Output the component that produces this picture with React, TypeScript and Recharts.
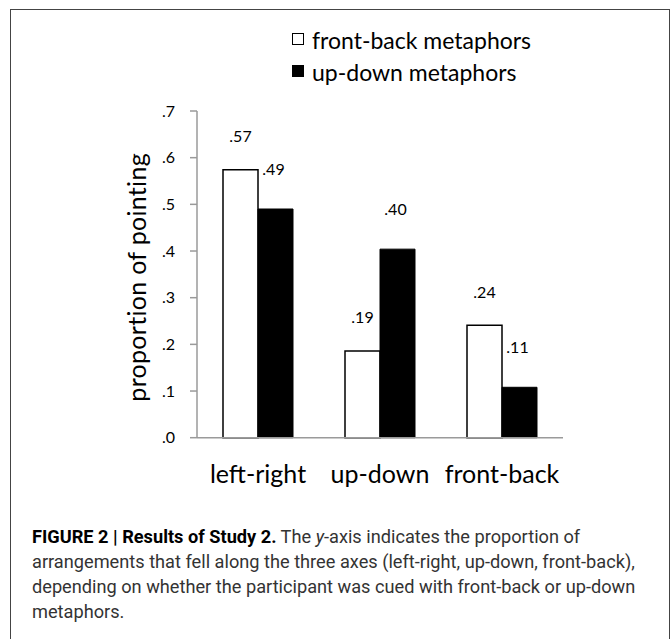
import React from 'react'
import { BarChart, Bar, XAxis, YAxis, Legend, LabelList } from 'recharts'

const categories = ['left-right', 'up-down', 'front-back']
const frontBack = [0.574, 0.186, 0.241]
const upDown = [0.49, 0.404, 0.108]
const yTicks = [0, 0.1, 0.2, 0.3, 0.4, 0.5, 0.6, 0.7]

const data = categories.map((name, i) => ({ name, frontBack: frontBack[i], upDown: upDown[i] }))

const FONT = 'Lato, "DejaVu Sans", sans-serif'
const AXIS_GREY = '#9a9a9a'

const fmt = (v: number) => '.' + String(Math.round(v * 100)).padStart(2, '0')

const topLabel = (lift: number, dx: number) => (props: any) => {
  const vb = props.viewBox ?? props
  const x = Number(vb.x) + Number(vb.width) / 2 + dx
  const y = Number(vb.y) - lift
  return (
    <text x={x} y={y} textAnchor="middle" dominantBaseline="central" fontFamily={FONT} fontSize={16} fill="#000">
      {fmt(Number(props.value))}
    </text>
  )
}

const YLabel = (props: any) => {
  const vb = props.viewBox
  const cx = vb.x + 19
  const cy = vb.y + vb.height / 2 + 3
  return (
    <text x={cx} y={cy} transform={`rotate(-90, ${cx}, ${cy})`} textAnchor="middle" dominantBaseline="central"
      fontFamily={FONT} fontSize={25} letterSpacing={0.3} fill="#000">
      proportion of pointing
    </text>
  )
}

const LegendBox = ({ payload }: any) => (
  <div style={{ fontFamily: FONT, fontSize: 23, lineHeight: '32px', color: '#000', whiteSpace: 'nowrap' }}>
    {(payload || []).map((e: any) => (
      <div key={e.value}>
        <span style={{
          display: 'inline-block', width: 12, height: 12, boxSizing: 'border-box',
          border: '1px solid #000', background: e.color, marginRight: 8, verticalAlign: '4px',
        }} />
        {e.value}
      </div>
    ))}
  </div>
)

export default function App() {
  return (
    <div style={{ position: 'absolute', left: 0, top: 0, width: 671, height: 639, background: '#fff', overflow: 'hidden' }}>
      <div style={{ position: 'absolute', left: 10, top: 9, width: 658, height: 700, border: '1px solid #444' }} />
      <div style={{ position: 'absolute', left: 0, top: 0 }}>
        <BarChart width={671} height={500} data={data} barGap={0} barCategoryGap={26}
          margin={{ top: 111, right: 108, bottom: 32.3, left: 117 }}>
          <XAxis dataKey="name" tickLine={false} tickSize={0} tickMargin={28} height={30}
            axisLine={{ stroke: AXIS_GREY, strokeWidth: 1.5 }}
            tick={{ fontFamily: FONT, fontSize: 25, fill: '#000' }} />
          <YAxis width={80} domain={[0, 0.7]} ticks={yTicks} tickSize={7} tickMargin={15}
            axisLine={{ stroke: AXIS_GREY, strokeWidth: 1.5 }} tickLine={{ stroke: AXIS_GREY, strokeWidth: 1.5 }}
            tickFormatter={(v: number) => v.toFixed(1).replace(/^0/, '')}
            tick={{ fontFamily: FONT, fontSize: 16, fill: '#000' }}
            label={<YLabel />} />
          <Legend layout="vertical" align="center" verticalAlign="middle" content={<LegendBox />}
            wrapperStyle={{ left: 292, top: 24, width: 270 }} />
          <Bar dataKey="frontBack" name="front-back metaphors" fill="#fff" stroke="#000" strokeWidth={1.5}
            isAnimationActive={false}>
            <LabelList dataKey="frontBack" content={topLabel(34, 0)} />
          </Bar>
          <Bar dataKey="upDown" name="up-down metaphors" fill="#000" stroke="#000" strokeWidth={1}
            isAnimationActive={false}>
            <LabelList dataKey="upDown" content={topLabel(41, -2)} />
          </Bar>
        </BarChart>
      </div>
      <div style={{ position: 'absolute', left: 32, top: 524, fontFamily: 'Roboto, sans-serif', fontSize: 18.2,
        lineHeight: '25px', color: '#333', whiteSpace: 'nowrap' }}>
        <b style={{ color: '#000' }}>FIGURE 2 | Results of Study 2.</b> The <i>y</i>-axis indicates the proportion of<br />
        arrangements that fell along the three axes (left-right, up-down, front-back),<br />
        depending on whether the participant was cued with front-back or up-down<br />
        metaphors.
      </div>
    </div>
  )
}
